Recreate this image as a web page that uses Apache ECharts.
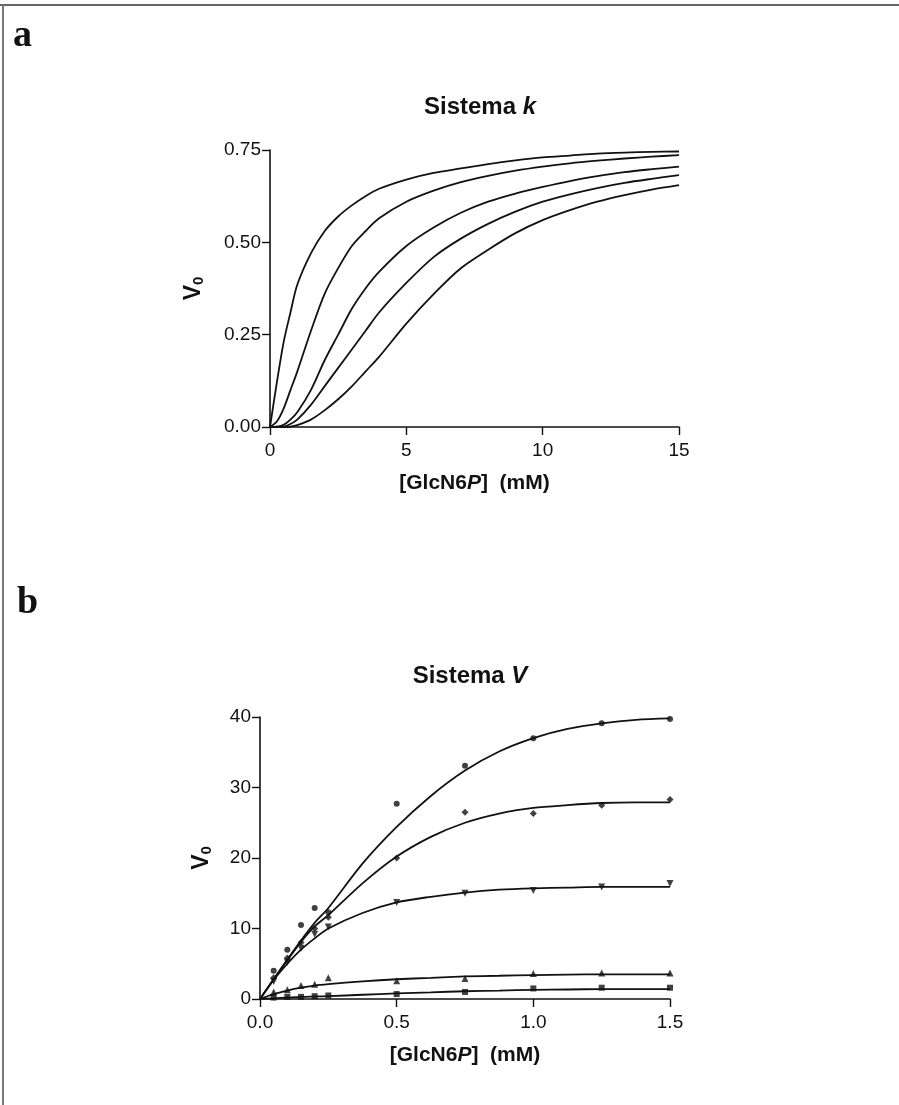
<!DOCTYPE html>
<html lang="es">
<head>
<meta charset="UTF-8">
<title>Sistema k / Sistema V</title>
<script src="https://cdn.jsdelivr.net/npm/echarts@6/dist/echarts.min.js"></script>
<style>
    html, body { margin: 0; padding: 0; background: #fff; }
    #main { width: 899px; height: 1105px; }
</style>
</head>
<body>
<div id="main"></div>
<script type="text/javascript">

    // panel a - Sistema k, five curves
    var kX      = [0, 0.25, 0.5, 0.75, 1, 1.5, 2, 2.5, 3, 3.5, 4, 5, 6, 7, 8, 9, 10, 11, 12, 13, 14, 15];
    var kCurve1 = [0, 0.12, 0.23, 0.31, 0.385, 0.47, 0.53, 0.57, 0.60, 0.625, 0.645, 0.67, 0.688, 0.70, 0.712, 0.722, 0.73, 0.735, 0.74, 0.743, 0.745, 0.746];
    var kCurve2 = [0, 0.015, 0.05, 0.10, 0.15, 0.26, 0.36, 0.43, 0.49, 0.53, 0.565, 0.61, 0.64, 0.663, 0.68, 0.694, 0.705, 0.714, 0.721, 0.727, 0.732, 0.736];
    var kCurve3 = [0, 0.001, 0.006, 0.02, 0.04, 0.10, 0.18, 0.25, 0.32, 0.375, 0.42, 0.49, 0.54, 0.58, 0.61, 0.632, 0.65, 0.666, 0.679, 0.69, 0.698, 0.705];
    var kCurve4 = [0, 0, 0.001, 0.008, 0.02, 0.06, 0.11, 0.16, 0.21, 0.26, 0.31, 0.39, 0.46, 0.51, 0.55, 0.583, 0.61, 0.63, 0.647, 0.661, 0.672, 0.682];
    var kCurve5 = [0, 0, 0, 0.001, 0.005, 0.02, 0.045, 0.075, 0.11, 0.15, 0.19, 0.28, 0.36, 0.43, 0.48, 0.525, 0.56, 0.587, 0.61, 0.628, 0.643, 0.655];

    // panel b - Sistema V, fitted curves
    var vCurveX = [0, 0.05, 0.1, 0.15, 0.2, 0.25, 0.375, 0.5, 0.625, 0.75, 0.875, 1.0, 1.125, 1.25, 1.375, 1.5];
    var vCurveA = [0, 2.8, 5.6, 8.3, 10.8, 12.9, 19.2, 24.4, 28.8, 32.4, 35.1, 37.0, 38.3, 39.1, 39.6, 39.8];
    var vCurveB = [0, 2.8, 5.5, 8.1, 10.3, 11.9, 16.4, 20.2, 23.0, 25.0, 26.3, 27.1, 27.5, 27.8, 27.9, 27.9];
    var vCurveC = [0, 2.7, 5.0, 7.0, 8.6, 10.0, 12.2, 13.7, 14.5, 15.1, 15.5, 15.7, 15.8, 15.9, 15.9, 15.9];
    var vCurveD = [0, 0.7, 1.2, 1.6, 1.9, 2.1, 2.5, 2.8, 3.0, 3.2, 3.3, 3.4, 3.45, 3.5, 3.5, 3.5];
    var vCurveE = [0, 0.1, 0.2, 0.3, 0.35, 0.4, 0.6, 0.8, 0.95, 1.1, 1.2, 1.3, 1.35, 1.4, 1.4, 1.4];

    // panel b - measured points
    var vPointX = [0.05, 0.1, 0.15, 0.2, 0.25, 0.5, 0.75, 1.0, 1.25, 1.5];
    var vCircle = [4.0, 7.0, 10.5, 12.9, 12.3, 27.7, 33.1, 37.0, 39.1, 39.7];
    var vDiam   = [3.0, 5.8, 8.0, 10.0, 11.6, 20.0, 26.5, 26.3, 27.5, 28.3];
    var vDown   = [2.5, 5.2, 7.2, 9.2, 10.2, 13.7, 15.0, 15.4, 15.9, 16.4];
    var vUp     = [1.0, 1.3, 1.9, 2.1, 3.0, 2.6, 2.9, 3.6, 3.7, 3.7];
    var vSquare = [0.2, 0.3, 0.3, 0.4, 0.5, 0.7, 1.0, 1.5, 1.6, 1.6];

    function pairs(xs, ys) {
        return xs.map(function (x, i) { return [x, ys[i]]; });
    }

    var FONT = 'Liberation Sans, Arial, sans-serif';
    var axisLine = {show: true, onZero: false, lineStyle: {color: '#111', width: 1.6}};
    var axisTick = {show: true, inside: false, length: 8, lineStyle: {color: '#111', width: 1.4}};
    var tickLabel = {color: '#111', fontSize: 19, fontFamily: FONT};

    var xName = {
        rich: {
            b: {fontFamily: FONT, fontSize: 21, fontWeight: 'bold', color: '#111'},
            i: {fontFamily: FONT, fontSize: 21, fontWeight: 'bold', fontStyle: 'italic', color: '#111'}
        }
    };
    var yName = {
        fontFamily: FONT, fontSize: 23, fontWeight: 'bold', color: '#111',
        rich: {s: {fontFamily: FONT, fontSize: 15, fontWeight: 'bold', color: '#111', padding: [9, 0, 0, 0]}}
    };
    var titleStyle = {
        fontFamily: FONT, fontSize: 24, fontWeight: 'bold', color: '#111',
        rich: {i: {fontFamily: FONT, fontSize: 24, fontWeight: 'bold', fontStyle: 'italic', color: '#111'}}
    };

    function curve(xi, yi, xs, ys) {
        return {
            type: 'line', xAxisIndex: xi, yAxisIndex: yi,
            data: pairs(xs, ys), showSymbol: false, smooth: 0.3,
            lineStyle: {color: '#111', width: 1.8}, silent: true, z: 3
        };
    }

    function points(xs, ys, symbol, size, rotate) {
        return {
            type: 'scatter', xAxisIndex: 1, yAxisIndex: 1,
            data: pairs(xs, ys), symbol: symbol, symbolSize: size, symbolRotate: rotate || 0,
            itemStyle: {color: '#111'}, z: 4
        };
    }

    var myChart = echarts.init(document.getElementById('main'), null, {renderer: 'canvas'});
    var option = {
        backgroundColor: '#fff',
        animation: false,
        title: [
            {text: 'Sistema {i|k}', left: 475, top: 90, textAlign: 'center', textStyle: titleStyle},
            {text: 'Sistema {i|V}', left: 465, top: 659, textAlign: 'center', textStyle: titleStyle}
        ],
        grid: [
            {left: 270, top: 150, width: 409, height: 277},
            {left: 260, top: 717, width: 410, height: 282}
        ],
        xAxis: [{
            gridIndex: 0, type: 'value', min: 0, max: 15, interval: 5,
            axisLine: axisLine, axisTick: axisTick, splitLine: {show: false},
            axisLabel: Object.assign({margin: 14}, tickLabel),
            name: '{b|[GlcN6}{i|P}{b|]  (mM)}', nameLocation: 'middle', nameGap: 46, nameTextStyle: xName
        }, {
            gridIndex: 1, type: 'value', min: 0, max: 1.5, interval: 0.5,
            axisLine: axisLine, axisTick: axisTick, splitLine: {show: false},
            axisLabel: Object.assign({margin: 14, formatter: function (v) { return v.toFixed(1); }}, tickLabel),
            name: '{b|[GlcN6}{i|P}{b|]  (mM)}', nameLocation: 'middle', nameGap: 46, nameTextStyle: xName
        }],
        yAxis: [{
            gridIndex: 0, type: 'value', min: 0, max: 0.75, interval: 0.25,
            axisLine: axisLine, axisTick: axisTick, splitLine: {show: false},
            axisLabel: Object.assign({margin: 9, formatter: function (v) { return v.toFixed(2); }}, tickLabel),
            name: 'V{s|0}', nameLocation: 'middle', nameGap: 64, nameRotate: 90, nameTextStyle: yName
        }, {
            gridIndex: 1, type: 'value', min: 0, max: 40, interval: 10,
            axisLine: axisLine, axisTick: axisTick, splitLine: {show: false},
            axisLabel: Object.assign({margin: 9}, tickLabel),
            name: 'V{s|0}', nameLocation: 'middle', nameGap: 46, nameRotate: 90, nameTextStyle: yName
        }],
        graphic: [
            // frame round the figure
            {type: 'line', shape: {x1: 0, y1: 5, x2: 899, y2: 5}, style: {stroke: '#666', lineWidth: 2}},
            {type: 'line', shape: {x1: 3, y1: 5, x2: 3, y2: 1105}, style: {stroke: '#777', lineWidth: 2}},
            // panel letters
            {type: 'text', left: 13, top: 17, style: {text: 'a', font: 'bold 38px "Liberation Serif", "DejaVu Serif", serif', fill: '#111'}},
            {type: 'text', left: 17, top: 584, style: {text: 'b', font: 'bold 38px "Liberation Serif", "DejaVu Serif", serif', fill: '#111'}}
        ],
        series: [
            curve(0, 0, kX, kCurve1),
            curve(0, 0, kX, kCurve2),
            curve(0, 0, kX, kCurve3),
            curve(0, 0, kX, kCurve4),
            curve(0, 0, kX, kCurve5),
            curve(1, 1, vCurveX, vCurveA),
            curve(1, 1, vCurveX, vCurveB),
            curve(1, 1, vCurveX, vCurveC),
            curve(1, 1, vCurveX, vCurveD),
            curve(1, 1, vCurveX, vCurveE),
            points(vPointX, vCircle, 'circle', 6),
            points(vPointX, vDiam, 'diamond', 7),
            points(vPointX, vDown, 'triangle', 7, 180),
            points(vPointX, vUp, 'triangle', 7),
            points(vPointX, vSquare, 'rect', 6)
        ]
    };
    myChart.setOption(option);
</script>
</body>
</html>
